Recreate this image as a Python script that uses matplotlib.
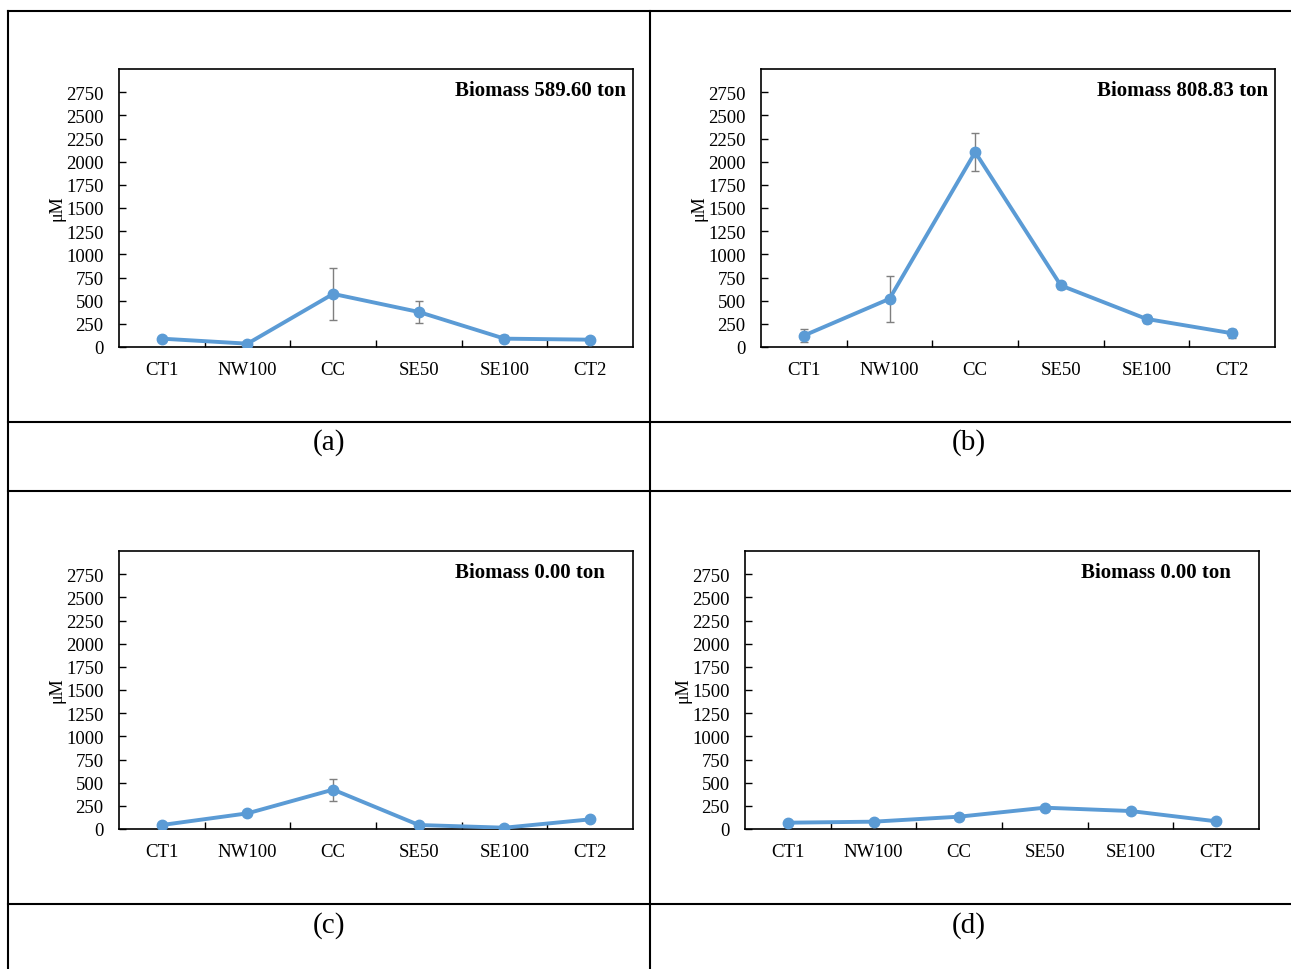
import numpy as np
import matplotlib
matplotlib.use('Agg')
import matplotlib.pyplot as plt

plt.rcParams['font.family'] = ['Liberation Serif', 'DejaVu Serif']

# Data
sites = ['CT1', 'NW100', 'CC', 'SE50', 'SE100', 'CT2']
vals_a = [90, 36, 573, 378, 90, 79]
err_a = [20, 10, 280, 117, 40, 20]
vals_b = [123, 520, 2103, 664, 303, 148]
err_b = [68, 247, 208, 35, 40, 48]
vals_c = [43, 169, 425, 43, 14, 104]
err_c = [10, 15, 119, 10, 8, 10]
vals_d = [68, 79, 133, 230, 194, 83]
err_d = [5, 5, 5, 5, 5, 5]
biomass = ['Biomass 589.60 ton', 'Biomass 808.83 ton', 'Biomass 0.00 ton', 'Biomass 0.00 ton']
letters = ['(a)', '(b)', '(c)', '(d)']
yticks = np.arange(0, 2751, 250)

W, H = 1291, 970
fig = plt.figure(figsize=(W / 100, H / 100), dpi=100)

# table grid drawn on a background axes in pixel coords
bg = fig.add_axes([0, 0, 1, 1], zorder=-1)
bg.set_xlim(0, W)
bg.set_ylim(H, 0)
bg.axis('off')
lw_tab = 1.5
bg.plot([8, 8], [12, H], color='black', lw=lw_tab)
bg.plot([650, 650], [12, H], color='black', lw=lw_tab)
for yy in [12, 423, 492, 905]:
    bg.plot([8, W], [yy, yy], color='black', lw=lw_tab)

# panel layout: (left, bottom) pixels of the plot area, text x frac, letter center
panels = [
    (119, 348, vals_a, err_a, 0.986, (329, 443), 57),
    (761, 348, vals_b, err_b, 0.986, (969, 443), 699),
    (119, 830, vals_c, err_c, 0.946, (329, 926), 57),
    (745, 830, vals_d, err_d, 0.946, (969, 926), 683),
]
aw, ah = 514, 278
blue = '#5B9BD5'

for i, (lx, by, vals, errs, tx, lpos, ylx) in enumerate(panels):
    ax = fig.add_axes([lx / W, (H - by) / H, aw / W, ah / H])
    x = np.arange(len(sites))
    ax.errorbar(x, vals, yerr=errs, color=blue, lw=2.8, marker='o', ms=7.5,
                ecolor='#7f7f7f', elinewidth=1, capsize=3, capthick=1, zorder=3)
    ax.set_xlim(-0.5, len(sites) - 0.5)
    ax.set_ylim(0, 3000)
    ax.set_yticks(yticks)
    ax.set_yticklabels([str(v) for v in yticks], fontsize=13.5)
    ax.set_xticks(x)
    ax.set_xticklabels(sites, fontsize=13.5)
    ax.set_xticks(np.arange(0.5, len(sites) - 1, 1), minor=True)
    ax.tick_params(axis='x', which='major', length=0, pad=10)
    ax.tick_params(axis='x', which='minor', direction='in', length=5, width=1)
    ax.tick_params(axis='y', direction='in', length=5, width=1, pad=11)
    for s in ax.spines.values():
        s.set_linewidth(1.2)
    ax.text(tx, 0.924, biomass[i], transform=ax.transAxes, ha='right', va='center',
            fontsize=15, fontweight='bold')
    fig.text(ylx / W, 1 - 208 / H if i < 2 else 1 - 690 / H, 'μM', rotation=90,
             ha='center', va='center', fontsize=13)
    fig.text(lpos[0] / W, 1 - lpos[1] / H, letters[i], ha='center', va='center', fontsize=21)

fig.savefig('out.png', dpi=100)
